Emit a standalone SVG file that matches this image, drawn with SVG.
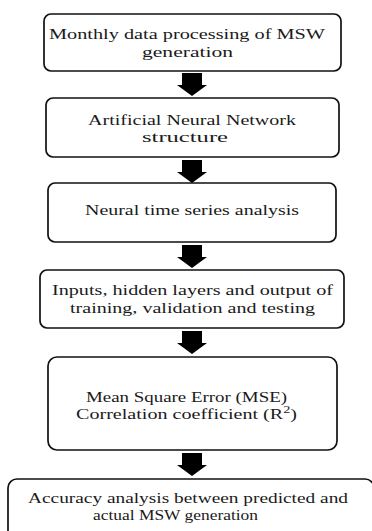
<svg xmlns="http://www.w3.org/2000/svg" width="372" height="531" viewBox="0 0 372 531">
  <style>
    .box { fill: #ffffff; stroke: #111111; stroke-width: 1.7; }
    .lbl { font-family: "Times New Roman", "Liberation Serif", serif; font-size: 15.5px; fill: #1a1a1a; text-anchor: middle; }
    .arrow { fill: #000000; }
  </style>
  <defs>
    <!-- block arrow pointing down, drawn from the top of its shaft -->
    <path id="blockArrow" d="M -10 0 H 10 V 12 H 15 L 0 23 L -15 12 H -10 Z"/>
  </defs>
  <rect width="372" height="531" fill="#ffffff"/>

  <g id="connectors">
    <use href="#blockArrow" class="arrow" x="192" y="73"/>
    <use href="#blockArrow" class="arrow" x="192" y="160"/>
    <use href="#blockArrow" class="arrow" x="192" y="245"/>
    <use href="#blockArrow" class="arrow" x="192" y="331"/>
    <use href="#blockArrow" class="arrow" x="192" y="453"/>
  </g>

  <g id="node-monthly-data">
    <rect class="box" x="44" y="14" width="297" height="57" rx="7"/>
    <text class="lbl" x="187" y="39" textLength="276" lengthAdjust="spacingAndGlyphs">Monthly data processing of MSW</text>
    <text class="lbl" x="187.5" y="57" textLength="91" lengthAdjust="spacingAndGlyphs">generation</text>
  </g>

  <g id="node-ann-structure">
    <rect class="box" x="46" y="98" width="293" height="59" rx="7"/>
    <text class="lbl" x="192" y="125" textLength="208" lengthAdjust="spacingAndGlyphs">Artificial Neural Network</text>
    <text class="lbl" x="185" y="142" textLength="86" lengthAdjust="spacingAndGlyphs">structure</text>
  </g>

  <g id="node-time-series">
    <rect class="box" x="48" y="183" width="288" height="59" rx="7"/>
    <text class="lbl" x="192" y="215" textLength="214" lengthAdjust="spacingAndGlyphs">Neural time series analysis</text>
  </g>

  <g id="node-training">
    <rect class="box" x="40" y="270" width="304" height="58" rx="7"/>
    <text class="lbl" x="192.5" y="295" textLength="281" lengthAdjust="spacingAndGlyphs">Inputs, hidden layers and output of</text>
    <text class="lbl" x="192.5" y="313" textLength="245" lengthAdjust="spacingAndGlyphs">training, validation and testing</text>
  </g>

  <g id="node-error-metrics">
    <rect class="box" x="48" y="357" width="289" height="93" rx="9"/>
    <text class="lbl" x="186.5" y="402" textLength="201" lengthAdjust="spacingAndGlyphs">Mean Square Error (MSE)</text>
    <text class="lbl" x="186.5" y="419" textLength="221" lengthAdjust="spacingAndGlyphs">Correlation coefficient (R<tspan font-size="11" dy="-6">2</tspan><tspan dy="6">)</tspan></text>
  </g>

  <g id="node-accuracy">
    <rect class="box" x="8" y="479" width="366" height="80" rx="9"/>
    <text class="lbl" x="188" y="503" textLength="320" lengthAdjust="spacingAndGlyphs">Accuracy analysis between predicted and</text>
    <text class="lbl" x="175.5" y="520" textLength="165" lengthAdjust="spacingAndGlyphs">actual MSW generation</text>
  </g>
</svg>
